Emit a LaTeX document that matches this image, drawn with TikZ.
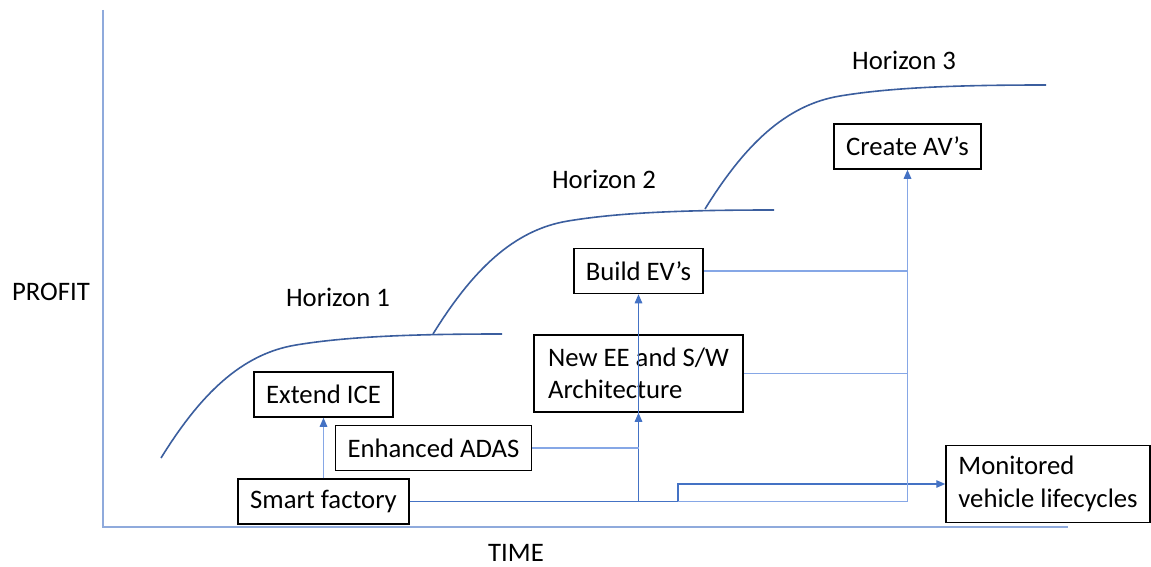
\documentclass[tikz,border=0pt]{standalone}
\usepackage{fontspec}
\setmainfont{Carlito}
\usepackage{xcolor}
\usepackage{tikz}
\usetikzlibrary{arrows.meta,calc}

\definecolor{achsblau}{HTML}{8FAADC}
\definecolor{kurvblau}{HTML}{3B5E9E}
\definecolor{pfeilblau}{HTML}{4472C4}
\definecolor{hellblau}{HTML}{86A7E6}

\begin{document}
\begin{tikzpicture}[x=1pt,y=-1pt,
  >={Triangle[length=9pt,width=7.5pt,color=pfeilblau]},
  every node/.style={font=\fontsize{26.7}{32.5}\selectfont},
  box/.style={draw,line width=1.5pt,inner xsep=12pt,inner ysep=8pt,minimum height=45pt},
  feed/.style={draw=hellblau,line width=1.5pt},
  flow/.style={draw=pfeilblau,line width=1.3pt},
  kurve/.style={draw=kurvblau,line width=1.6pt}]
  \useasboundingbox (0,0) rectangle (1151,567);

  % Achsen
  \draw[achsblau,line width=1.5pt] (103,10) -- (103,527) -- (1068,527);
  \node (profit) at (51,292) {PROFIT};
  \node (time) at (516,553) {TIME};

  % drei gleiche Wachstumskurven, jeweils versetzt
  \foreach \sx/\sy in {161/458,433/334,705/209}
    \draw[kurve,shift={(\sx,\sy)}] (0,0) .. controls (39,-63) and (80,-104) .. (135,-113)
      .. controls (189,-122) and (259,-124) .. (341,-124);
  \node (hor1) at (338,297) {Horizon 1};
  \node (hor2) at (604,179) {Horizon 2};
  \node (hor3) at (904,60) {Horizon 3};

  % Kaesten
  \node[box] (extend) at (323.5,394.5) {Extend ICE};
  \node[box] (adas) at (433.5,448) {Enhanced ADAS};
  \node[box] (smart) at (323.5,501.5) {Smart factory};
  \node[box,align=left,minimum width=209pt,minimum height=77pt] (newee) at (638.5,373.5)
    {New EE and S/W\\Architecture};
  \node[box] (build) at (638.5,271) {Build EV’s};
  \node[box] (create) at (907.5,146.5) {Create AV’s};
  \node[box,align=left,minimum width=204pt,minimum height=77pt] (monitor) at (1048,484)
    {Monitored\\vehicle lifecycles};

  % Verbindungen
  \coordinate (knick) at (678,501.5);
  \draw[feed,->] (smart) -- (extend);
  \draw[flow] (smart.east) -- (knick);
  \draw[flow,->] (smart.east -| newee.south) -- (newee.south);
  \draw[feed] (adas.east) -- (adas.east -| newee.south);
  \draw[flow,->] (newee.south) -- (build.south);
  \draw[flow,->] (knick) |- (monitor.west);
  \draw[feed,->] (knick) -| (create.south);
  \draw[feed] (build.east) -- (build.east -| create.south);
  \draw[feed] (newee.east) -- (newee.east -| create.south);
\end{tikzpicture}
\end{document}
